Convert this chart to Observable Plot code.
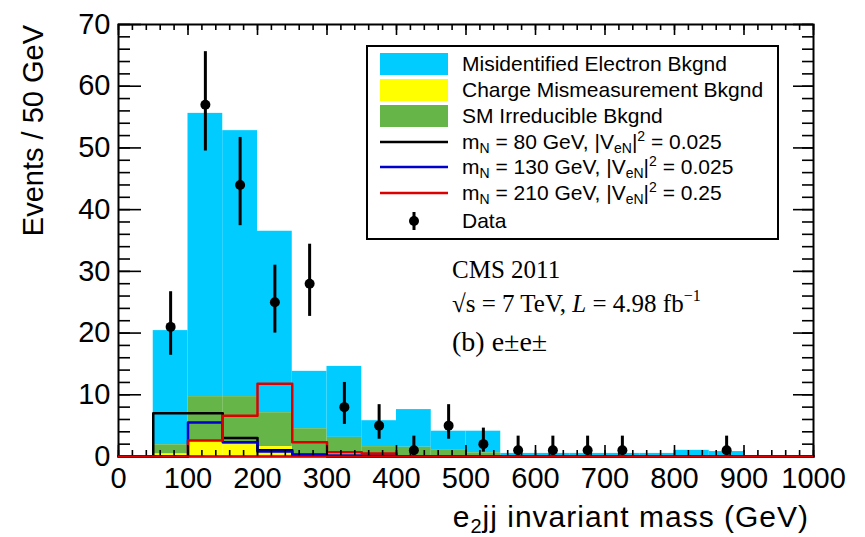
<!DOCTYPE html>
<html><head><meta charset="utf-8">
<script src="https://cdn.jsdelivr.net/npm/d3@7"></script>
<script src="https://cdn.jsdelivr.net/npm/@observablehq/plot@0.6"></script>
<style>html,body{margin:0;padding:0;background:#fff;}</style>
</head><body><div id="chart"></div>
<script>
// ---- background histograms (50 GeV bins, lower edges) ----
const bkgBinLo       = [50, 100, 150, 200, 250, 300, 350, 400, 450, 500, 550, 600, 650, 700, 750, 800, 850];
const chargeMis      = [0.4, 2.4, 1.9, 1.6, 0.3, 0.4, 0.1, 0.1, 0, 0, 0, 0, 0, 0, 0, 0, 0];
const smIrreducible  = [1.5, 7.3, 7.8, 5.5, 4.2, 2.7, 1.5, 1.4, 1.1, 0.6, 0.05, 0, 0, 0, 0, 0, 0];
const misidElectron  = [18.5, 45.9, 43.1, 29.4, 9.3, 11.5, 4.2, 6.1, 3.0, 3.5, 0.45, 0.5, 0.5, 0.5, 0.5, 1.0, 0.8];

// ---- signal histograms (bins 0..1000) ----
const sigBinLo  = [0, 50, 100, 150, 200, 250, 300, 350, 400, 450, 500, 550, 600, 650, 700, 750, 800, 850, 900, 950];
const sigM80    = [0, 7.0, 7.0, 3.0, 1.0, 0.3, 0, 0, 0, 0, 0, 0, 0, 0, 0, 0, 0, 0, 0, 0];
const sigM130   = [0, 0, 5.5, 2.3, 0.8, 0.3, 0.15, 0.15, 0, 0, 0, 0, 0, 0, 0, 0, 0, 0, 0, 0];
const sigM210   = [0, 0, 2.6, 6.6, 11.8, 2.3, 0.7, 0.5, 0, 0, 0, 0, 0, 0, 0, 0, 0, 0, 0, 0];

// ---- data points ----
const dataMass  = [75, 125, 175, 225, 275, 325, 375, 425, 475, 525, 575, 625, 675, 725, 875];
const dataCount = [21, 57, 44, 25, 28, 8, 5, 1, 5, 2, 1, 1, 1, 1, 1];
const dataLow   = [16.4, 49.5, 37.4, 20.0, 22.7, 5.2, 2.8, 0.17, 2.8, 0.7, 0.17, 0.17, 0.17, 0.17, 0.17];
const dataHigh  = [26.7, 65.6, 51.7, 31.0, 34.4, 12.0, 8.4, 3.3, 8.4, 4.6, 3.3, 3.3, 3.3, 3.3, 3.3];

// ---- axes ----
const xTicks = [0, 100, 200, 300, 400, 500, 600, 700, 800, 900, 1000];
const yTicks = [0, 10, 20, 30, 40, 50, 60, 70];
const xMinor = d3.range(0, 1001, 20);
const yMinor = d3.range(0, 71, 2);
const xTitle = "invariant mass (GeV)";
const yTitle = "Events / 50 GeV";

const binW = 50;
const bkg = bkgBinLo.map((lo, i) => {
  const c = chargeMis[i], s = smIrreducible[i], m = misidElectron[i];
  return {x1: lo, x2: lo + binW, c0: 0, c1: c, s1: c + s, m1: c + s + m};
});
function stepRows(vals) {
  const rows = sigBinLo.map((lo, i) => ({x: lo, y: vals[i]}));
  rows.push({x: sigBinLo[sigBinLo.length - 1] + binW, y: vals[vals.length - 1]});
  return rows;
}
const pts = dataMass.map((m, i) => ({x: m, y: dataCount[i], lo: dataLow[i], hi: dataHigh[i]}));

const W = 865, H = 537, mL = 118, mT = 24, mR = 52, mB = 81;
const fw = W - mL - mR, fh = H - mT - mB;
const sans = "Liberation Sans, Arial, sans-serif";

const plot = Plot.plot({
  width: W, height: H,
  marginLeft: mL, marginTop: mT, marginRight: mR, marginBottom: mB,
  x: {domain: [0, 1000]},
  y: {domain: [0, 70]},
  style: {fontFamily: sans, fontSize: "29px", background: "white", color: "black"},
  marks: [
    Plot.rect(bkg, {x1: "x1", x2: "x2", y1: "s1", y2: "m1", fill: "#00ccff"}),
    Plot.rect(bkg, {x1: "x1", x2: "x2", y1: "c1", y2: "s1", fill: "#66b548"}),
    Plot.rect(bkg, {x1: "x1", x2: "x2", y1: "c0", y2: "c1", fill: "#ffff00"}),
    Plot.line(stepRows(sigM80), {x: "x", y: "y", curve: "step-after", stroke: "#000000", strokeWidth: 2.5}),
    Plot.line(stepRows(sigM130), {x: "x", y: "y", curve: "step-after", stroke: "#0000cc", strokeWidth: 2.5}),
    Plot.line(stepRows(sigM210), {x: "x", y: "y", curve: "step-after", stroke: "#dd0000", strokeWidth: 2.5}),
    // inward ticks (ROOT style), bottom/top/left/right
    Plot.ruleX(xMinor, {x: d => d, insetTop: fh - 6, stroke: "black", strokeWidth: 1.6}),
    Plot.ruleX(xTicks, {x: d => d, insetTop: fh - 11, stroke: "black", strokeWidth: 1.6}),
    Plot.ruleX(xMinor, {x: d => d, insetBottom: fh - 6, stroke: "black", strokeWidth: 1.6}),
    Plot.ruleX(xTicks, {x: d => d, insetBottom: fh - 11, stroke: "black", strokeWidth: 1.6}),
    Plot.ruleY(yMinor, {y: d => d, insetRight: fw - 12, stroke: "black", strokeWidth: 1.6}),
    Plot.ruleY(yTicks, {y: d => d, insetRight: fw - 23, stroke: "black", strokeWidth: 1.6}),
    Plot.ruleY(yMinor, {y: d => d, insetLeft: fw - 11, stroke: "black", strokeWidth: 1.6}),
    Plot.ruleY(yTicks, {y: d => d, insetLeft: fw - 20, stroke: "black", strokeWidth: 1.6}),
    Plot.frame({stroke: "black", strokeWidth: 2}),
    // red zero line over frame bottom
    Plot.ruleY([0], {stroke: "#dd0000", strokeWidth: 2}),
    Plot.axisX(xTicks, {tickSize: 0, tickPadding: 11, label: null, tickFormat: d => String(d), fontSize: 29}),
    Plot.axisY(yTicks, {tickSize: 0, tickPadding: 8, label: null, tickFormat: d => String(d), fontSize: 29}),
    // data
    Plot.ruleX(pts, {x: "x", y1: "lo", y2: "hi", stroke: "black", strokeWidth: 3}),
    Plot.dot(pts, {x: "x", y: "y", r: 5, fill: "black", stroke: "none"})
  ]
});
document.getElementById("chart").appendChild(plot);

const svg = d3.select(plot);
// axis titles
svg.append("text").attr("transform", `translate(43,25) rotate(-90)`)
  .attr("text-anchor", "end").attr("font-size", 29).attr("font-family", sans)
  .attr("fill", "black").text(yTitle);
const xt = svg.append("text").attr("x", 809).attr("y", 527).attr("text-anchor", "end")
  .attr("font-size", 30).attr("letter-spacing", 1).attr("font-family", sans).attr("fill", "black");
xt.append("tspan").text("e");
xt.append("tspan").attr("font-size", 20).attr("dy", 6).text("2");
xt.append("tspan").attr("dy", -6).text("jj " + xTitle);

// legend
const legendLabels = [
  ["Misidentified Electron Bkgnd"],
  ["Charge Mismeasurement Bkgnd"],
  ["SM Irreducible Bkgnd"],
  ["80", "0.025"],
  ["130", "0.025"],
  ["210", "0.25"],
  ["Data"]
];
const legendKinds = ["fill", "fill", "fill", "line", "line", "line", "data"];
const legendColors = ["#00ccff", "#ffff00", "#66b548", "#000000", "#0000cc", "#dd0000", "#000000"];
const lg = svg.append("g").attr("font-family", sans).attr("font-size", 21).attr("fill", "black").attr("text-anchor", "start");
lg.append("rect").attr("x", 367).attr("y", 46).attr("width", 411).attr("height", 193)
  .attr("fill", "white").attr("stroke", "black").attr("stroke-width", 2);
const rowY = [64, 90, 116, 142, 167, 193, 221];
legendLabels.forEach((lab, i) => {
  const cy = rowY[i], kind = legendKinds[i], col = legendColors[i];
  if (kind === "fill") lg.append("rect").attr("x", 380).attr("y", cy - 11).attr("width", 68).attr("height", 22).attr("fill", col);
  else if (kind === "line") lg.append("line").attr("x1", 380).attr("x2", 448).attr("y1", cy).attr("y2", cy).attr("stroke", col).attr("stroke-width", 2.5);
  else {
    lg.append("line").attr("x1", 414).attr("x2", 414).attr("y1", cy - 9).attr("y2", cy + 9).attr("stroke", "black").attr("stroke-width", 3);
    lg.append("circle").attr("cx", 414).attr("cy", cy).attr("r", 5).attr("fill", "black");
  }
  const t = lg.append("text").attr("x", 462).attr("y", cy + 7).attr("text-anchor", "start");
  if (lab.length === 1) t.text(lab[0]);
  else {
    t.append("tspan").text("m");
    t.append("tspan").attr("font-size", 14).attr("dy", 4).text("N");
    t.append("tspan").attr("dy", -4).text(` = ${lab[0]} GeV, |V`);
    t.append("tspan").attr("font-size", 14).attr("dy", 4).text("eN");
    t.append("tspan").attr("dy", -4).text("|");
    t.append("tspan").attr("font-size", 14).attr("dy", -8).text("2");
    t.append("tspan").attr("dy", 8).text(` = ${lab[1]}`);
  }
});

// annotation
const an = svg.append("g").attr("font-family", "Liberation Serif, Times New Roman, serif").attr("fill", "black").attr("text-anchor", "start");
an.append("text").attr("x", 452).attr("y", 278).attr("font-size", 25).text("CMS 2011");
const t2 = an.append("text").attr("x", 452).attr("y", 312).attr("font-size", 25);
t2.append("tspan").text("\u221As = 7 TeV, ");
t2.append("tspan").attr("font-style", "italic").text("L");
t2.append("tspan").text(" = 4.98 fb");
t2.append("tspan").attr("font-size", 16).attr("dy", -11).text("\u22121");
an.append("text").attr("x", 452).attr("y", 351).attr("font-size", 28).text("(b) e\u00B1e\u00B1");
</script>
</body></html>
